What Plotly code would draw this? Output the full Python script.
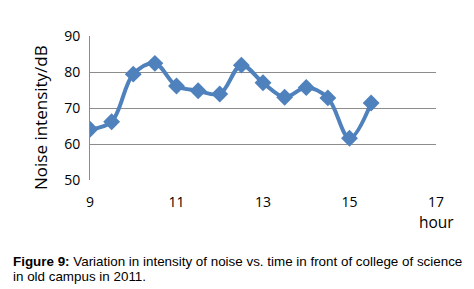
import plotly.graph_objects as go

hours = [9, 9.5, 10, 10.5, 11, 11.5, 12, 12.5, 13, 13.5, 14, 14.5, 15, 15.5]
noise_db = [64.1, 66.2, 79.4, 82.4, 76.1, 74.8, 73.9, 81.9, 77.0, 73.0, 75.7, 72.8, 61.6, 71.4]
x_ticks = [9, 11, 13, 15, 17]
y_ticks = [50, 60, 70, 80, 90]

W, H = 474, 289
l, r, t, b = 90, 38, 36, 109
pw, ph = W - l - r, H - t - b

def px(x):
    return (x - l) / pw

def py(y):
    return (H - b - y) / ph

fig = go.Figure()
fig.add_trace(go.Scatter(
    x=hours, y=noise_db, mode="lines+markers",
    line=dict(color="#4F81BD", width=4, shape="spline", smoothing=1.0),
    marker=dict(symbol="diamond", size=13, color="#4F81BD"),
    showlegend=False,
))

fig.update_layout(
    width=W, height=H,
    margin=dict(l=l, r=r, t=t, b=b),
    paper_bgcolor="white", plot_bgcolor="white",
    font=dict(family="Open Sans, DejaVu Sans, sans-serif", size=14, color="#000000"),
    xaxis=dict(range=[9, 17], tickvals=x_ticks, showgrid=False, zeroline=False,
               showline=False, ticks="", tickfont=dict(size=14), ticklabelstandoff=12),
    yaxis=dict(range=[50, 90], tickvals=y_ticks, showgrid=True, gridcolor="#8C8C8C",
               gridwidth=1, zeroline=False, showline=True, linecolor="#8C8C8C",
               linewidth=1, ticks="", tickfont=dict(size=14), ticklabelstandoff=6),
    annotations=[
        dict(text="Noise intensity/dB", x=px(40), y=py(117), xref="paper", yref="paper",
             xanchor="center", yanchor="middle",
             showarrow=False, textangle=-90, font=dict(size=17)),
        dict(text="hour", x=px(437), y=py(222), xref="paper", yref="paper",
             xanchor="center", yanchor="middle", showarrow=False, borderpad=0,
             font=dict(size=15.5)),
        dict(text="<b>Figure 9:</b> Variation in intensity of noise vs. time in front of college of science",
             x=px(11), y=py(261), xref="paper", yref="paper", xanchor="left", yanchor="middle",
             showarrow=False, align="left",
             font=dict(family="Liberation Sans, Arial, sans-serif", size=13.4)),
        dict(text="in old campus in 2011.",
             x=px(11), y=py(276), xref="paper", yref="paper", xanchor="left", yanchor="middle",
             showarrow=False, align="left",
             font=dict(family="Liberation Sans, Arial, sans-serif", size=13.4)),
    ],
)

fig.write_html("out.html", config={"displayModeBar": False},
               post_script="document.body.style.margin='0';document.body.style.overflow='hidden';")
